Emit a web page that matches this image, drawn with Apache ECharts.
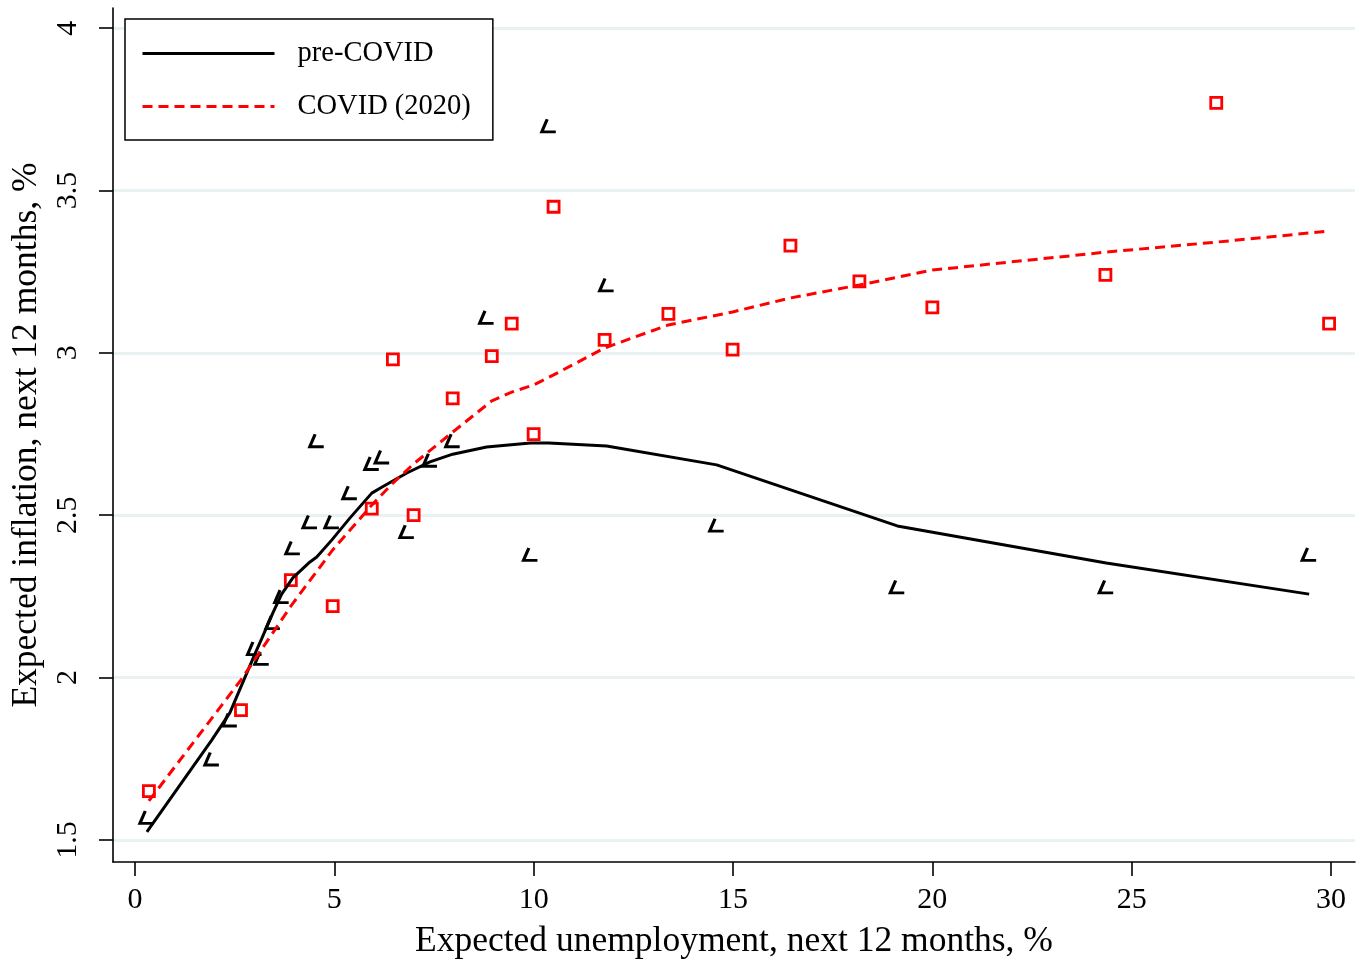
<!DOCTYPE html>
<html>
<head>
<meta charset="utf-8">
<script src="https://cdn.jsdelivr.net/npm/echarts@6/dist/echarts.min.js"></script>
<style>
html,body{margin:0;padding:0;background:#fff;}
#chart{width:1365px;height:966px;}
</style>
</head>
<body>
<div id="chart"></div>
<script>
// Tick labels
const xTicks = [0, 5, 10, 15, 20, 25, 30];
const yTicks = [1.5, 2, 2.5, 3, 3.5, 4];

// Series names
const seriesNames = ['pre-COVID', 'COVID (2020)'];

// pre-COVID binned observations [unemployment, inflation]
const preCovidPoints = [
  [0.3, 1.57], [1.93, 1.75], [2.38, 1.87], [3.0, 2.09], [3.18, 2.06],
  [3.46, 2.17], [3.68, 2.25], [3.96, 2.40], [4.39, 2.48], [4.56, 2.73],
  [4.94, 2.48], [5.39, 2.57], [5.94, 2.66], [6.2, 2.68], [6.82, 2.45],
  [7.4, 2.67], [7.97, 2.73], [8.82, 3.11], [9.92, 2.38], [10.38, 3.70],
  [11.83, 3.21], [14.59, 2.47], [19.12, 2.28], [24.36, 2.28], [29.45, 2.38]
];

// pre-COVID fitted line
const preCovidFit = [
  [0.3, 1.525], [1.93, 1.808], [2.38, 1.891], [3.0, 2.07], [3.18, 2.12],
  [3.46, 2.199], [3.68, 2.257], [3.96, 2.307], [4.39, 2.356], [4.56, 2.371],
  [4.94, 2.424], [5.39, 2.491], [5.94, 2.568], [6.2, 2.587], [6.82, 2.63],
  [7.4, 2.664], [7.97, 2.688], [8.82, 2.71], [9.92, 2.722], [10.38, 2.722],
  [11.83, 2.713], [14.59, 2.655], [19.12, 2.467], [24.36, 2.353], [29.45, 2.257]
];

// COVID (2020) binned observations
const covidPoints = [
  [0.35, 1.65], [2.66, 1.90], [3.91, 2.30], [4.96, 2.22], [5.94, 2.52],
  [6.47, 2.98], [6.99, 2.50], [7.97, 2.86], [8.95, 2.99], [9.45, 3.09],
  [10.0, 2.75], [10.5, 3.45], [11.78, 3.04], [13.38, 3.12], [14.99, 3.01],
  [16.44, 3.33], [18.17, 3.22], [20.0, 3.14], [24.34, 3.24], [27.12, 3.77],
  [29.95, 3.09]
];

// COVID (2020) fitted line
const covidFit = [
  [0.35, 1.62], [2.66, 1.993], [3.91, 2.22], [4.96, 2.393], [5.94, 2.531],
  [6.47, 2.599], [6.99, 2.658], [7.97, 2.756], [8.95, 2.852], [9.45, 2.879],
  [10.0, 2.901], [10.5, 2.932], [11.78, 3.015], [13.38, 3.086], [14.99, 3.126],
  [16.44, 3.169], [18.17, 3.209], [20.0, 3.255], [24.34, 3.31], [27.12, 3.341],
  [29.95, 3.375]
];

const FONT = '"Liberation Serif", "Times New Roman", serif';
const chart = echarts.init(document.getElementById('chart'), null, {renderer: 'canvas'});

chart.setOption({
  animation: false,
  backgroundColor: '#fff',
  grid: {left: 113, top: 8, right: 10, bottom: 104, containLabel: false, outerBoundsMode: 'none'},
  legend: {
    data: seriesNames,
    orient: 'vertical',
    left: 125, top: 19,
    itemWidth: 132, itemHeight: 26, itemGap: 24,
    padding: [20, 22, 19, 16],
    borderColor: '#000', borderWidth: 1.5,
    backgroundColor: '#fff',
    selectedMode: false,
    itemStyle: {opacity: 0, color: 'rgba(0,0,0,0)', borderWidth: 0},
    lineStyle: {width: 3},
    textStyle: {fontSize: 28.5, fontFamily: FONT, color: '#000', padding: [0, 0, 0, 18]}
  },
  xAxis: {
    type: 'value',
    min: -0.55, max: 30.6,
    name: 'Expected unemployment, next 12 months, %',
    nameLocation: 'middle', nameGap: 62,
    nameTextStyle: {fontSize: 35.5, fontFamily: FONT, color: '#000'},
    axisLine: {show: true, onZero: false, lineStyle: {color: '#000', width: 1.6}},
    axisTick: {show: true, customValues: xTicks, length: 14, lineStyle: {color: '#000', width: 1.6}},
    axisLabel: {customValues: xTicks, fontSize: 30, fontFamily: FONT, color: '#000', margin: 23},
    splitLine: {show: false}
  },
  yAxis: {
    type: 'value',
    min: 1.432, max: 4.062,
    name: 'Expected inflation, next 12 months, %',
    nameLocation: 'middle', nameGap: 68,
    nameRotate: 90,
    nameTextStyle: {fontSize: 35.5, fontFamily: FONT, color: '#000'},
    axisLine: {show: true, onZero: false, lineStyle: {color: '#000', width: 1.6}},
    axisTick: {show: true, customValues: yTicks, length: 14, lineStyle: {color: '#000', width: 1.6}},
    axisLabel: {customValues: yTicks, rotate: 90, fontSize: 30, fontFamily: FONT, color: '#000', margin: 30,
      formatter: v => String(v)},
    splitLine: {show: true, lineStyle: {color: '#eaf1f3', width: 3}}
  },
  series: [
    {
      name: 'pre-COVID points',
      type: 'scatter',
      data: preCovidPoints,
      symbol: 'path://M5,0 L0,12 L13,12',
      symbolSize: [14, 12.5],
      itemStyle: {color: 'rgba(0,0,0,0)', borderColor: '#000', borderWidth: 3, opacity: 1},
      z: 3
    },
    {
      name: 'COVID points',
      type: 'scatter',
      data: covidPoints,
      symbol: 'rect',
      symbolSize: 11,
      itemStyle: {color: 'rgba(0,0,0,0)', borderColor: '#ff0000', borderWidth: 2.8, opacity: 1},
      z: 3
    },
    {
      name: seriesNames[0],
      type: 'line',
      data: preCovidFit,
      symbol: 'none',
      showSymbol: false,
      lineStyle: {color: '#000', width: 3},
      itemStyle: {color: '#000'},
      z: 4
    },
    {
      name: seriesNames[1],
      type: 'line',
      data: covidFit,
      symbol: 'none',
      showSymbol: false,
      lineStyle: {color: '#ff0000', width: 3, type: [10, 6]},
      itemStyle: {color: '#ff0000'},
      z: 4
    }
  ]
});
</script>
</body>
</html>
